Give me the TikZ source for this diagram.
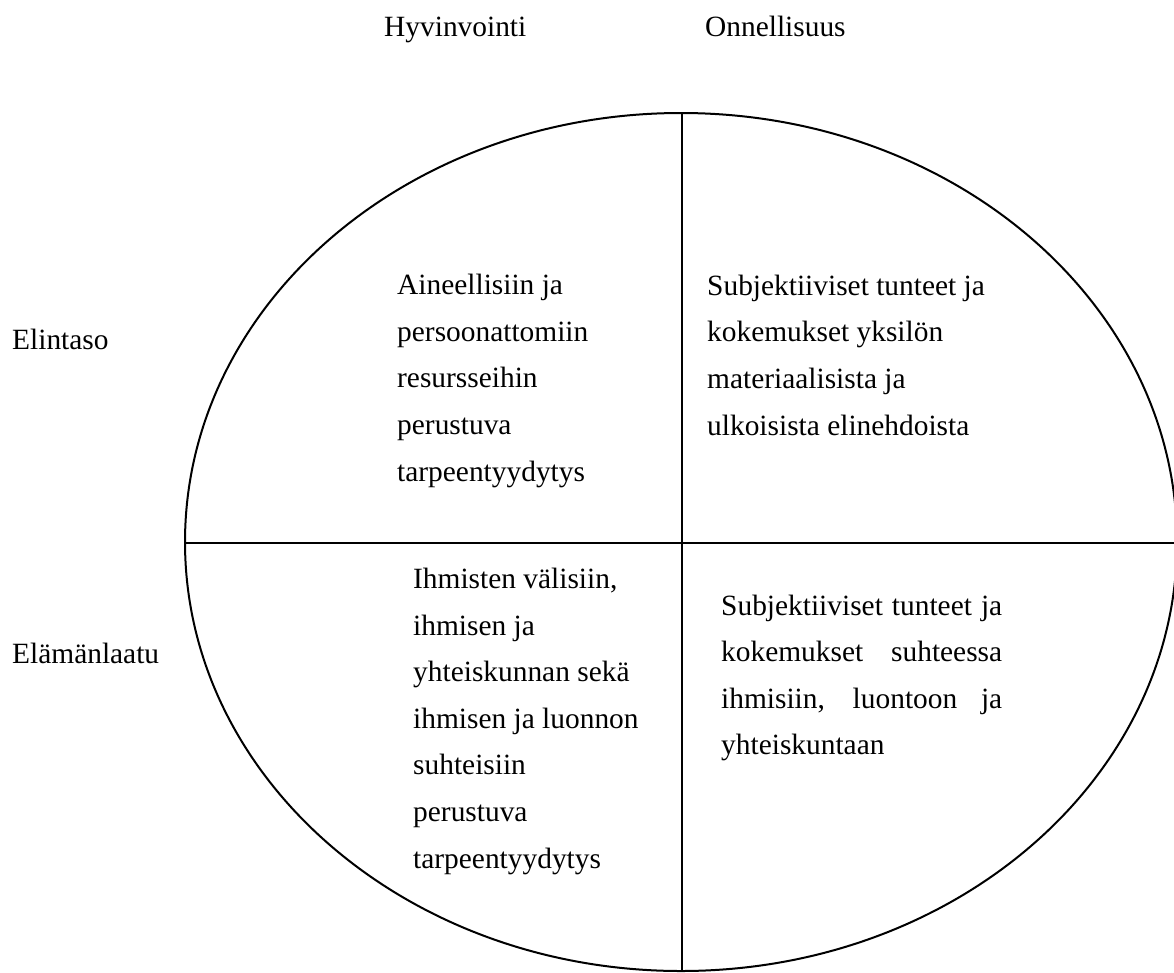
\documentclass[tikz,border=0pt]{standalone}
\usepackage{fontspec}
\setmainfont{Liberation Serif}
\begin{document}
\begin{tikzpicture}[x=1pt,y=-1pt,
    lbl/.style={anchor=base west,inner sep=0pt,align=left,
      font=\fontsize{29.4}{46.6}\selectfont},
    rim/.style={line width=2pt}]
  \useasboundingbox (0,0) rectangle (1174,972);
  \draw[rim] (681,542) ellipse [x radius=496, y radius=429];
  \coordinate (top) at (682,113);
  \coordinate (bot) at (682,972);
  \coordinate (lft) at (185,543);
  \coordinate (rgt) at (1174,543);
  % multi-line nodes sit on their last baseline
  \draw
    (384,36) node[lbl] (hyv) {Hyvinvointi}
    (705,36) node[lbl] (onn) {Onnellisuus}
    (12,349) node[lbl] (eli) {Elintaso}
    (12,663) node[lbl] (ela) {Elämänlaatu}
    (397,481) node[lbl] (hyveli) {Aineellisiin ja\\ persoonattomiin\\ resursseihin\\ perustuva\\ tarpeentyydytys}
    (707,435) node[lbl] (onneli) {Subjektiiviset tunteet ja\\ kokemukset yksilön\\ materiaalisista ja\\ ulkoisista elinehdoista}
    (413,868) node[lbl] (hyvela) {Ihmisten välisiin,\\ ihmisen ja\\ yhteiskunnan sekä\\ ihmisen ja luonnon\\ suhteisiin\\ perustuva\\ tarpeentyydytys}
    (721,615) node[lbl,text width=281pt,align=justify] (onnela) {Subjektiiviset tunteet ja\linebreak kokemukset suhteessa\linebreak ihmisiin, luontoon ja\linebreak yhteiskuntaan};
  \begin{scope}[rim]
    \draw (top) to (bot);
    \draw (lft) to (rgt);
  \end{scope}
\end{tikzpicture}
\end{document}
